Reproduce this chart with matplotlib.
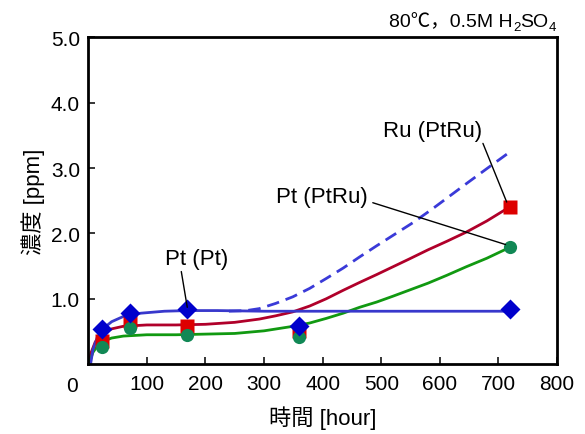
import matplotlib
matplotlib.use('Agg')
import matplotlib.pyplot as plt

plt.rcParams['font.family'] = ['Liberation Sans', 'Noto Sans CJK JP']

# measured points (hour, ppm)
hours = [24, 72, 168, 360, 720]
pt_pt = [0.54, 0.78, 0.84, 0.59, 0.85]
ru_ptru = [0.36, 0.66, 0.59, 0.51, 2.41]
pt_ptru = [0.26, 0.56, 0.44, 0.41, 1.79]

# fitted curves
blue_h = [4, 8, 15, 25, 40, 60, 90, 130, 170, 220, 300, 400, 500, 600, 720]
blue_fit = [0.0, 0.22, 0.40, 0.54, 0.65, 0.73, 0.78, 0.81, 0.82, 0.82, 0.81, 0.81, 0.81, 0.81, 0.81]

dash_h = [240, 270, 292, 320, 349, 378, 406, 435, 463, 492, 520, 555, 588, 615, 645, 680, 720]
dash_fit = [0.81, 0.82, 0.85, 0.93, 1.03, 1.16, 1.31, 1.47, 1.64, 1.81, 1.97, 2.17, 2.38, 2.56, 2.76, 2.99, 3.25]

red_h = [1, 5, 12, 25, 40, 60, 100, 150, 200, 250, 292, 320, 349, 378, 406, 435, 463, 492, 520, 548, 580, 612, 645, 680, 720]
red_fit = [0.0, 0.18, 0.34, 0.47, 0.54, 0.58, 0.60, 0.60, 0.61, 0.64, 0.69, 0.74, 0.80, 0.89, 1.00, 1.13, 1.25, 1.37, 1.49, 1.61, 1.75, 1.88, 2.02, 2.19, 2.41]

green_h = [1, 8, 15, 25, 40, 60, 100, 150, 200, 250, 300, 350, 378, 406, 435, 463, 492, 520, 550, 580, 612, 645, 680, 720]
green_fit = [0.0, 0.18, 0.27, 0.35, 0.40, 0.43, 0.45, 0.45, 0.46, 0.47, 0.51, 0.58, 0.63, 0.70, 0.78, 0.87, 0.95, 1.04, 1.14, 1.24, 1.36, 1.49, 1.62, 1.79]

fig = plt.figure(figsize=(5.85, 4.35), dpi=100)
ax = fig.add_axes([0.1508, 0.1605, 0.8015, 0.7515])

ax.plot(dash_h, dash_fit, color='#3a3ad8', lw=2, ls=(0, (4.5, 2.5)))
ax.plot(red_h, red_fit, color='#b0002a', lw=2)
ax.plot(green_h, green_fit, color='#119911', lw=2)
ax.plot(blue_h, blue_fit, color='#3838cc', lw=2)

ax.plot(hours, ru_ptru, 's', color='#dd0000', ms=9.5, mec='none')
ax.plot(hours, pt_ptru, 'o', color='#118855', ms=9.5, mec='none')
ax.plot(hours, pt_pt, 'D', color='#0000cc', ms=10, mec='none')

ax.set_xlim(0, 800)
ax.set_ylim(0, 5)
ax.set_xticks([100, 200, 300, 400, 500, 600, 700, 800])
ax.set_yticks([1, 2, 3, 4, 5])
ax.set_yticklabels(['1.0', '2.0', '3.0', '4.0', '5.0'])
ax.tick_params(direction='in', length=5, width=1.1, labelsize=15, pad=7)
ax.tick_params(axis='y', pad=6)
for s in ax.spines.values():
    s.set_linewidth(2)

ax.annotate('0', xy=(0, 0), xycoords='axes fraction', xytext=(-16, -21),
            textcoords='offset pixels', ha='center', va='center', fontsize=15)

ax.set_xlabel('時間 [hour]', fontsize=16, labelpad=9)
ax.set_ylabel('濃度 [ppm]', fontsize=16, labelpad=4)

# title "80℃，0.5M H2SO4" built from pieces so the subscripts sit low
renderer = fig.canvas.get_renderer()
x = 0.950
y = 0.938
pieces = [('4', 9.5, -0.009), ('SO', 14, 0), ('2', 9.5, -0.009), ('80℃，0.5M H', 14, 0)]
for txt, fs, dy in pieces:
    t = fig.text(x, y + dy, txt, ha='right', va='baseline', fontsize=fs)
    w = t.get_window_extent(renderer).width / fig.bbox.width
    x -= w

ax.annotate('Pt (Pt)', xy=(169, 0.87), xytext=(185, 1.62), ha='center', va='center',
            fontsize=16, arrowprops=dict(arrowstyle='-', color='black', lw=1,
                                         shrinkA=0, shrinkB=0, relpos=(0.25, 0)))
ax.annotate('Pt (PtRu)', xy=(712, 1.83), xytext=(398, 2.56), ha='center', va='center',
            fontsize=16, arrowprops=dict(arrowstyle='-', color='black', lw=1,
                                         shrinkA=2, shrinkB=0, relpos=(1, 0.3)))
ax.annotate('Ru (PtRu)', xy=(714, 2.48), xytext=(587, 3.58), ha='center', va='center',
            fontsize=16, arrowprops=dict(arrowstyle='-', color='black', lw=1,
                                         shrinkA=0, shrinkB=0, relpos=(1, 0.0)))

fig.savefig('out.png', dpi=100)
